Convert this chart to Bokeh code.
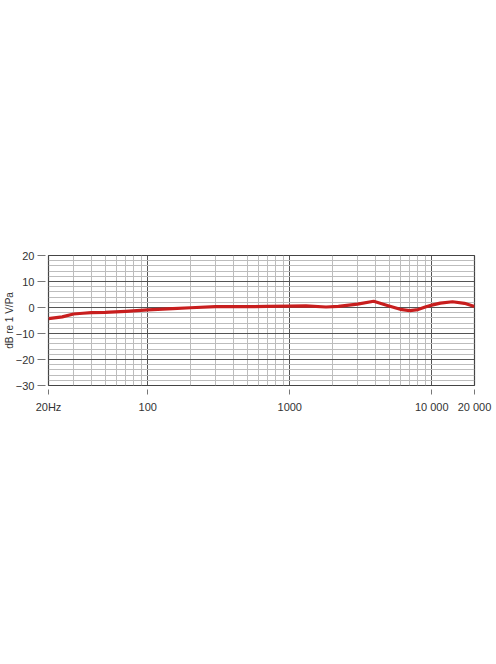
import numpy as np
from bokeh.plotting import figure
from bokeh.models import FixedTicker, Grid, Range1d
from bokeh.embed import file_html
from bokeh.resources import INLINE

# Frequency response data
freq_hz = [20, 25, 30, 35, 40, 50, 70, 100, 150, 200, 300, 500, 700, 1000, 1300,
           1800, 2200, 3000, 3900, 5000, 6000, 7000, 8000, 9000, 10000, 11500,
           14000, 17000, 20000]
level_db = [-4.3, -3.6, -2.5, -2.2, -2.0, -1.9, -1.5, -0.9, -0.4, -0.1, 0.3, 0.3,
            0.4, 0.5, 0.6, 0.2, 0.4, 1.3, 2.4, 0.6, -0.7, -1.2, -0.8, 0.2, 0.9,
            1.7, 2.2, 1.6, 0.4]

x_ticks = [20, 100, 1000, 10000, 20000]
x_tick_labels = ["20Hz", "100", "1000", "10 000", "20 000"]
x_major_grid = [100, 1000, 10000]
x_minor_grid = [30, 40, 50, 60, 70, 80, 90,
                200, 300, 400, 500, 600, 700, 800, 900,
                2000, 3000, 4000, 5000, 6000, 7000, 8000, 9000]
y_ticks = [-30, -20, -10, 0, 10, 20]
y_minor_grid = [-28, -26, -24, -22, -18, -16, -14, -12, -8, -6, -4, -2,
                2, 4, 6, 8, 12, 14, 16, 18]
y_label = "dB re 1 V/Pa"

FONT = "Liberation Sans"
TXT = "#333333"

p = figure(width=496, height=664, x_axis_type="log",
           x_range=Range1d(20, 20000), y_range=Range1d(-30, 20),
           output_backend="svg", toolbar_location=None,
           min_border_left=46, min_border_right=22,
           min_border_top=255, min_border_bottom=279)
p.background_fill_color = "white"
p.border_fill_color = "white"
p.outline_line_color = "#444444"
p.outline_line_width = 1.2

p.grid.visible = False

xg = Grid(dimension=0, ticker=FixedTicker(ticks=x_major_grid, minor_ticks=x_minor_grid),
          grid_line_color="#555555", grid_line_width=1,
          minor_grid_line_color="#bdbdbd", minor_grid_line_width=1)
yg = Grid(dimension=1, ticker=FixedTicker(ticks=[-20, -10, 0, 10], minor_ticks=y_minor_grid),
          grid_line_color="#555555", grid_line_width=1,
          minor_grid_line_color="#bdbdbd", minor_grid_line_width=1)
p.add_layout(xg)
p.add_layout(yg)

p.line(freq_hz, level_db, line_color="#c81e1e", line_width=3.2, line_join="round")

xa = p.xaxis[0]
xa.ticker = FixedTicker(ticks=x_ticks)
xa.major_label_overrides = {t: l for t, l in zip(x_ticks, x_tick_labels)}
xa.axis_line_color = None
xa.major_tick_in = -4
xa.major_tick_out = 9
xa.major_tick_line_color = "#777777"
xa.minor_tick_line_color = None
xa.major_label_standoff = 6
xa.major_label_text_font = FONT
xa.major_label_text_font_size = "11px"
xa.major_label_text_color = TXT

ya = p.yaxis[0]
ya.ticker = FixedTicker(ticks=y_ticks)
ya.axis_line_color = None
ya.major_tick_in = -3
ya.major_tick_out = 11
ya.major_tick_line_color = "#777777"
ya.minor_tick_line_color = None
ya.major_label_standoff = 3
ya.major_label_text_font = FONT
ya.major_label_text_font_size = "11px"
ya.major_label_text_color = TXT
ya.axis_label = y_label
ya.axis_label_text_font = FONT
ya.axis_label_text_font_size = "10px"
ya.axis_label_text_font_style = "normal"
ya.axis_label_text_color = TXT
ya.axis_label_standoff = -2

open("out.html", "w").write(file_html(p, INLINE))
